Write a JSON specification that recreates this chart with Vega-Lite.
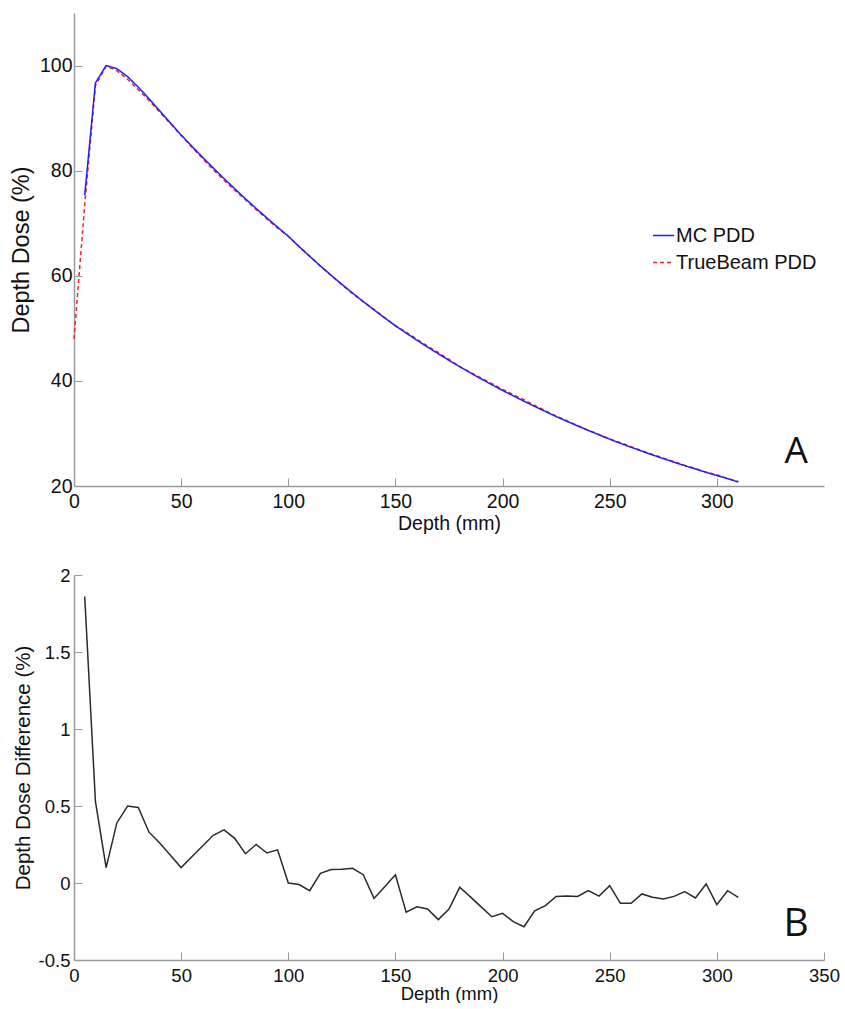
{
  "$schema": "https://vega.github.io/schema/vega-lite/v6.json",
  "padding": {"left": 9, "top": 13, "right": 0, "bottom": 0},
  "spacing": 33,
  "background": "white",
  "config": {
    "font": "Liberation Sans",
    "view": {"stroke": null},
    "axis": {
      "grid": false,
      "domainColor": "#9a9a9a",
      "domainWidth": 1.5,
      "tickColor": "#9a9a9a",
      "tickWidth": 1,
      "tickSize": -8,
      "labelColor": "#111",
      "titleColor": "#111",
      "labelFont": "Liberation Sans",
      "titleFont": "Liberation Sans",
      "titleFontWeight": "normal",
      "labelFlush": false,
      "labelOverlap": false
    }
  },
  "datasets": {
    "pdd": [
      {"depth": 0, "dose": 48.0, "series": "TrueBeam PDD"},
      {"depth": 5, "dose": 73.44, "series": "TrueBeam PDD"},
      {"depth": 10, "dose": 96.17, "series": "TrueBeam PDD"},
      {"depth": 15, "dose": 99.9, "series": "TrueBeam PDD"},
      {"depth": 20, "dose": 99.01, "series": "TrueBeam PDD"},
      {"depth": 25, "dose": 97.4, "series": "TrueBeam PDD"},
      {"depth": 30, "dose": 95.41, "series": "TrueBeam PDD"},
      {"depth": 35, "dose": 93.37, "series": "TrueBeam PDD"},
      {"depth": 40, "dose": 91.14, "series": "TrueBeam PDD"},
      {"depth": 45, "dose": 88.92, "series": "TrueBeam PDD"},
      {"depth": 50, "dose": 86.7, "series": "TrueBeam PDD"},
      {"depth": 55, "dose": 84.48, "series": "TrueBeam PDD"},
      {"depth": 60, "dose": 82.31, "series": "TrueBeam PDD"},
      {"depth": 65, "dose": 80.19, "series": "TrueBeam PDD"},
      {"depth": 70, "dose": 78.17, "series": "TrueBeam PDD"},
      {"depth": 75, "dose": 76.27, "series": "TrueBeam PDD"},
      {"depth": 80, "dose": 74.47, "series": "TrueBeam PDD"},
      {"depth": 85, "dose": 72.56, "series": "TrueBeam PDD"},
      {"depth": 90, "dose": 70.82, "series": "TrueBeam PDD"},
      {"depth": 95, "dose": 69.04, "series": "TrueBeam PDD"},
      {"depth": 100, "dose": 67.53, "series": "TrueBeam PDD"},
      {"depth": 105, "dose": 65.58, "series": "TrueBeam PDD"},
      {"depth": 110, "dose": 63.74, "series": "TrueBeam PDD"},
      {"depth": 115, "dose": 61.81, "series": "TrueBeam PDD"},
      {"depth": 120, "dose": 60.01, "series": "TrueBeam PDD"},
      {"depth": 125, "dose": 58.29, "series": "TrueBeam PDD"},
      {"depth": 130, "dose": 56.62, "series": "TrueBeam PDD"},
      {"depth": 135, "dose": 55.04, "series": "TrueBeam PDD"},
      {"depth": 140, "dose": 53.61, "series": "TrueBeam PDD"},
      {"depth": 145, "dose": 52.01, "series": "TrueBeam PDD"},
      {"depth": 150, "dose": 50.44, "series": "TrueBeam PDD"},
      {"depth": 155, "dose": 49.3, "series": "TrueBeam PDD"},
      {"depth": 160, "dose": 47.91, "series": "TrueBeam PDD"},
      {"depth": 165, "dose": 46.61, "series": "TrueBeam PDD"},
      {"depth": 170, "dose": 45.4, "series": "TrueBeam PDD"},
      {"depth": 175, "dose": 44.08, "series": "TrueBeam PDD"},
      {"depth": 180, "dose": 42.73, "series": "TrueBeam PDD"},
      {"depth": 185, "dose": 41.61, "series": "TrueBeam PDD"},
      {"depth": 190, "dose": 40.54, "series": "TrueBeam PDD"},
      {"depth": 195, "dose": 39.49, "series": "TrueBeam PDD"},
      {"depth": 200, "dose": 38.38, "series": "TrueBeam PDD"},
      {"depth": 205, "dose": 37.4, "series": "TrueBeam PDD"},
      {"depth": 210, "dose": 36.41, "series": "TrueBeam PDD"},
      {"depth": 215, "dose": 35.32, "series": "TrueBeam PDD"},
      {"depth": 220, "dose": 34.32, "series": "TrueBeam PDD"},
      {"depth": 225, "dose": 33.32, "series": "TrueBeam PDD"},
      {"depth": 230, "dose": 32.41, "series": "TrueBeam PDD"},
      {"depth": 235, "dose": 31.52, "series": "TrueBeam PDD"},
      {"depth": 240, "dose": 30.62, "series": "TrueBeam PDD"},
      {"depth": 245, "dose": 29.82, "series": "TrueBeam PDD"},
      {"depth": 250, "dose": 28.93, "series": "TrueBeam PDD"},
      {"depth": 255, "dose": 28.25, "series": "TrueBeam PDD"},
      {"depth": 260, "dose": 27.49, "series": "TrueBeam PDD"},
      {"depth": 265, "dose": 26.7, "series": "TrueBeam PDD"},
      {"depth": 270, "dose": 26.0, "series": "TrueBeam PDD"},
      {"depth": 275, "dose": 25.31, "series": "TrueBeam PDD"},
      {"depth": 280, "dose": 24.62, "series": "TrueBeam PDD"},
      {"depth": 285, "dose": 23.93, "series": "TrueBeam PDD"},
      {"depth": 290, "dose": 23.33, "series": "TrueBeam PDD"},
      {"depth": 295, "dose": 22.61, "series": "TrueBeam PDD"},
      {"depth": 300, "dose": 22.13, "series": "TrueBeam PDD"},
      {"depth": 305, "dose": 21.45, "series": "TrueBeam PDD"},
      {"depth": 310, "dose": 20.84, "series": "TrueBeam PDD"},
      {"depth": 5, "dose": 75.3, "series": "MC PDD"},
      {"depth": 10, "dose": 96.7, "series": "MC PDD"},
      {"depth": 15, "dose": 100.0, "series": "MC PDD"},
      {"depth": 20, "dose": 99.4, "series": "MC PDD"},
      {"depth": 25, "dose": 97.9, "series": "MC PDD"},
      {"depth": 30, "dose": 95.9, "series": "MC PDD"},
      {"depth": 35, "dose": 93.7, "series": "MC PDD"},
      {"depth": 40, "dose": 91.4, "series": "MC PDD"},
      {"depth": 45, "dose": 89.1, "series": "MC PDD"},
      {"depth": 50, "dose": 86.8, "series": "MC PDD"},
      {"depth": 55, "dose": 84.65, "series": "MC PDD"},
      {"depth": 60, "dose": 82.55, "series": "MC PDD"},
      {"depth": 65, "dose": 80.5, "series": "MC PDD"},
      {"depth": 70, "dose": 78.51, "series": "MC PDD"},
      {"depth": 75, "dose": 76.56, "series": "MC PDD"},
      {"depth": 80, "dose": 74.66, "series": "MC PDD"},
      {"depth": 85, "dose": 72.81, "series": "MC PDD"},
      {"depth": 90, "dose": 71.01, "series": "MC PDD"},
      {"depth": 95, "dose": 69.25, "series": "MC PDD"},
      {"depth": 100, "dose": 67.53, "series": "MC PDD"},
      {"depth": 105, "dose": 65.57, "series": "MC PDD"},
      {"depth": 110, "dose": 63.69, "series": "MC PDD"},
      {"depth": 115, "dose": 61.87, "series": "MC PDD"},
      {"depth": 120, "dose": 60.1, "series": "MC PDD"},
      {"depth": 125, "dose": 58.38, "series": "MC PDD"},
      {"depth": 130, "dose": 56.71, "series": "MC PDD"},
      {"depth": 135, "dose": 55.09, "series": "MC PDD"},
      {"depth": 140, "dose": 53.51, "series": "MC PDD"},
      {"depth": 145, "dose": 51.98, "series": "MC PDD"},
      {"depth": 150, "dose": 50.49, "series": "MC PDD"},
      {"depth": 155, "dose": 49.11, "series": "MC PDD"},
      {"depth": 160, "dose": 47.75, "series": "MC PDD"},
      {"depth": 165, "dose": 46.44, "series": "MC PDD"},
      {"depth": 170, "dose": 45.16, "series": "MC PDD"},
      {"depth": 175, "dose": 43.91, "series": "MC PDD"},
      {"depth": 180, "dose": 42.7, "series": "MC PDD"},
      {"depth": 185, "dose": 41.52, "series": "MC PDD"},
      {"depth": 190, "dose": 40.38, "series": "MC PDD"},
      {"depth": 195, "dose": 39.27, "series": "MC PDD"},
      {"depth": 200, "dose": 38.18, "series": "MC PDD"},
      {"depth": 205, "dose": 37.15, "series": "MC PDD"},
      {"depth": 210, "dose": 36.13, "series": "MC PDD"},
      {"depth": 215, "dose": 35.14, "series": "MC PDD"},
      {"depth": 220, "dose": 34.17, "series": "MC PDD"},
      {"depth": 225, "dose": 33.23, "series": "MC PDD"},
      {"depth": 230, "dose": 32.32, "series": "MC PDD"},
      {"depth": 235, "dose": 31.43, "series": "MC PDD"},
      {"depth": 240, "dose": 30.57, "series": "MC PDD"},
      {"depth": 245, "dose": 29.73, "series": "MC PDD"},
      {"depth": 250, "dose": 28.91, "series": "MC PDD"},
      {"depth": 255, "dose": 28.12, "series": "MC PDD"},
      {"depth": 260, "dose": 27.36, "series": "MC PDD"},
      {"depth": 265, "dose": 26.63, "series": "MC PDD"},
      {"depth": 270, "dose": 25.91, "series": "MC PDD"},
      {"depth": 275, "dose": 25.21, "series": "MC PDD"},
      {"depth": 280, "dose": 24.53, "series": "MC PDD"},
      {"depth": 285, "dose": 23.87, "series": "MC PDD"},
      {"depth": 290, "dose": 23.23, "series": "MC PDD"},
      {"depth": 295, "dose": 22.6, "series": "MC PDD"},
      {"depth": 300, "dose": 21.99, "series": "MC PDD"},
      {"depth": 305, "dose": 21.4, "series": "MC PDD"},
      {"depth": 310, "dose": 20.75, "series": "MC PDD"}
    ],
    "diff": [
      {"depth": 5, "diff": 1.86},
      {"depth": 10, "diff": 0.53},
      {"depth": 15, "diff": 0.1},
      {"depth": 20, "diff": 0.39},
      {"depth": 25, "diff": 0.5},
      {"depth": 30, "diff": 0.49},
      {"depth": 35, "diff": 0.33},
      {"depth": 40, "diff": 0.26},
      {"depth": 45, "diff": 0.18},
      {"depth": 50, "diff": 0.1},
      {"depth": 55, "diff": 0.17},
      {"depth": 60, "diff": 0.24},
      {"depth": 65, "diff": 0.31},
      {"depth": 70, "diff": 0.345},
      {"depth": 75, "diff": 0.29},
      {"depth": 80, "diff": 0.19},
      {"depth": 85, "diff": 0.25},
      {"depth": 90, "diff": 0.195},
      {"depth": 95, "diff": 0.215},
      {"depth": 100, "diff": 0.0},
      {"depth": 105, "diff": -0.01},
      {"depth": 110, "diff": -0.05},
      {"depth": 115, "diff": 0.063},
      {"depth": 120, "diff": 0.087},
      {"depth": 125, "diff": 0.09},
      {"depth": 130, "diff": 0.095},
      {"depth": 135, "diff": 0.054},
      {"depth": 140, "diff": -0.1},
      {"depth": 145, "diff": -0.025},
      {"depth": 150, "diff": 0.054},
      {"depth": 155, "diff": -0.19},
      {"depth": 160, "diff": -0.155},
      {"depth": 165, "diff": -0.169},
      {"depth": 170, "diff": -0.238},
      {"depth": 175, "diff": -0.169},
      {"depth": 180, "diff": -0.028},
      {"depth": 185, "diff": -0.09},
      {"depth": 190, "diff": -0.155},
      {"depth": 195, "diff": -0.219},
      {"depth": 200, "diff": -0.197},
      {"depth": 205, "diff": -0.251},
      {"depth": 210, "diff": -0.284},
      {"depth": 215, "diff": -0.18},
      {"depth": 220, "diff": -0.147},
      {"depth": 225, "diff": -0.087},
      {"depth": 230, "diff": -0.085},
      {"depth": 235, "diff": -0.087},
      {"depth": 240, "diff": -0.05},
      {"depth": 245, "diff": -0.085},
      {"depth": 250, "diff": -0.017},
      {"depth": 255, "diff": -0.132},
      {"depth": 260, "diff": -0.132},
      {"depth": 265, "diff": -0.071},
      {"depth": 270, "diff": -0.093},
      {"depth": 275, "diff": -0.104},
      {"depth": 280, "diff": -0.087},
      {"depth": 285, "diff": -0.056},
      {"depth": 290, "diff": -0.097},
      {"depth": 295, "diff": -0.006},
      {"depth": 300, "diff": -0.141},
      {"depth": 305, "diff": -0.05},
      {"depth": 310, "diff": -0.093}
    ],
    "panelA": [{"label": "A"}],
    "panelB": [{"label": "B"}]
  },
  "vconcat": [
    {
      "width": 750,
      "height": 473,
      "layer": [
        {
          "data": {"name": "pdd"},
          "mark": {"type": "line", "strokeWidth": 1.5},
          "encoding": {
            "x": {
              "field": "depth", "type": "quantitative",
              "scale": {"domain": [0, 350], "nice": false},
              "axis": {
                "title": "Depth (mm)", "values": [0, 50, 100, 150, 200, 250, 300],
                "labelFontSize": 19.5, "titleFontSize": 19.5,
                "labelPadding": 14, "minExtent": 20, "maxExtent": 20, "titlePadding": 8
              }
            },
            "y": {
              "field": "dose", "type": "quantitative",
              "scale": {"domain": [20, 110], "nice": false, "zero": false},
              "axis": {
                "title": "Depth Dose (%)", "values": [20, 40, 60, 80, 100],
                "labelFontSize": 19.5, "titleFontSize": 23.5,
                "labelPadding": 10, "minExtent": 35, "maxExtent": 35, "titlePadding": 6
              }
            },
            "color": {
              "field": "series", "type": "nominal",
              "scale": {"domain": ["MC PDD", "TrueBeam PDD"], "range": ["#1f1fff", "#ff1f1f"]},
              "legend": {
                "title": null, "orient": "none", "legendX": 578, "legendY": 211,
                "symbolType": "stroke", "symbolSize": 441, "symbolStrokeWidth": 1.5,
                "labelFontSize": 20, "labelFont": "Liberation Sans", "labelColor": "#111",
                "labelOffset": 1, "rowPadding": 5, "padding": 0
              }
            },
            "strokeDash": {
              "field": "series", "type": "nominal",
              "scale": {"domain": ["MC PDD", "TrueBeam PDD"], "range": [[1, 0], [4, 3]]},
              "legend": {
                "title": null, "orient": "none", "legendX": 578, "legendY": 211,
                "symbolType": "stroke", "symbolSize": 441, "symbolStrokeWidth": 1.5,
                "labelFontSize": 20, "labelFont": "Liberation Sans", "labelColor": "#111",
                "labelOffset": 1, "rowPadding": 5, "padding": 0
              }
            }
          }
        },
        {
          "data": {"name": "panelA"},
          "mark": {"type": "text", "font": "Open Sans", "fontSize": 37, "align": "center", "baseline": "alphabetic", "color": "#111"},
          "encoding": {
            "x": {"datum": 337, "type": "quantitative"},
            "y": {"datum": 24.3, "type": "quantitative"},
            "text": {"field": "label"}
          }
        }
      ]
    },
    {
      "width": 750,
      "height": 385,
      "layer": [
        {
          "data": {"name": "diff"},
          "mark": {"type": "line", "strokeWidth": 1.5, "color": "#2a2a2a"},
          "encoding": {
            "x": {
              "field": "depth", "type": "quantitative",
              "scale": {"domain": [0, 350], "nice": false},
              "axis": {
                "title": "Depth (mm)", "values": [0, 50, 100, 150, 200, 250, 300, 350],
                "labelFontSize": 18.5, "titleFontSize": 18.5,
                "labelPadding": 14, "minExtent": 20, "maxExtent": 20, "titlePadding": 4
              }
            },
            "y": {
              "field": "diff", "type": "quantitative",
              "scale": {"domain": [-0.5, 2], "nice": false, "zero": false},
              "axis": {
                "title": "Depth Dose Difference (%)", "values": [-0.5, 0, 0.5, 1, 1.5, 2],
                "labelExpr": "'' + datum.value",
                "labelFontSize": 18.5, "titleFontSize": 20.5,
                "labelPadding": 12, "minExtent": 35, "maxExtent": 35, "titlePadding": 6
              }
            }
          }
        },
        {
          "data": {"name": "panelB"},
          "mark": {"type": "text", "font": "Open Sans", "fontSize": 39, "align": "center", "baseline": "alphabetic", "color": "#111"},
          "encoding": {
            "x": {"datum": 337, "type": "quantitative"},
            "y": {"datum": -0.344, "type": "quantitative"},
            "text": {"field": "label"}
          }
        }
      ]
    }
  ]
}
